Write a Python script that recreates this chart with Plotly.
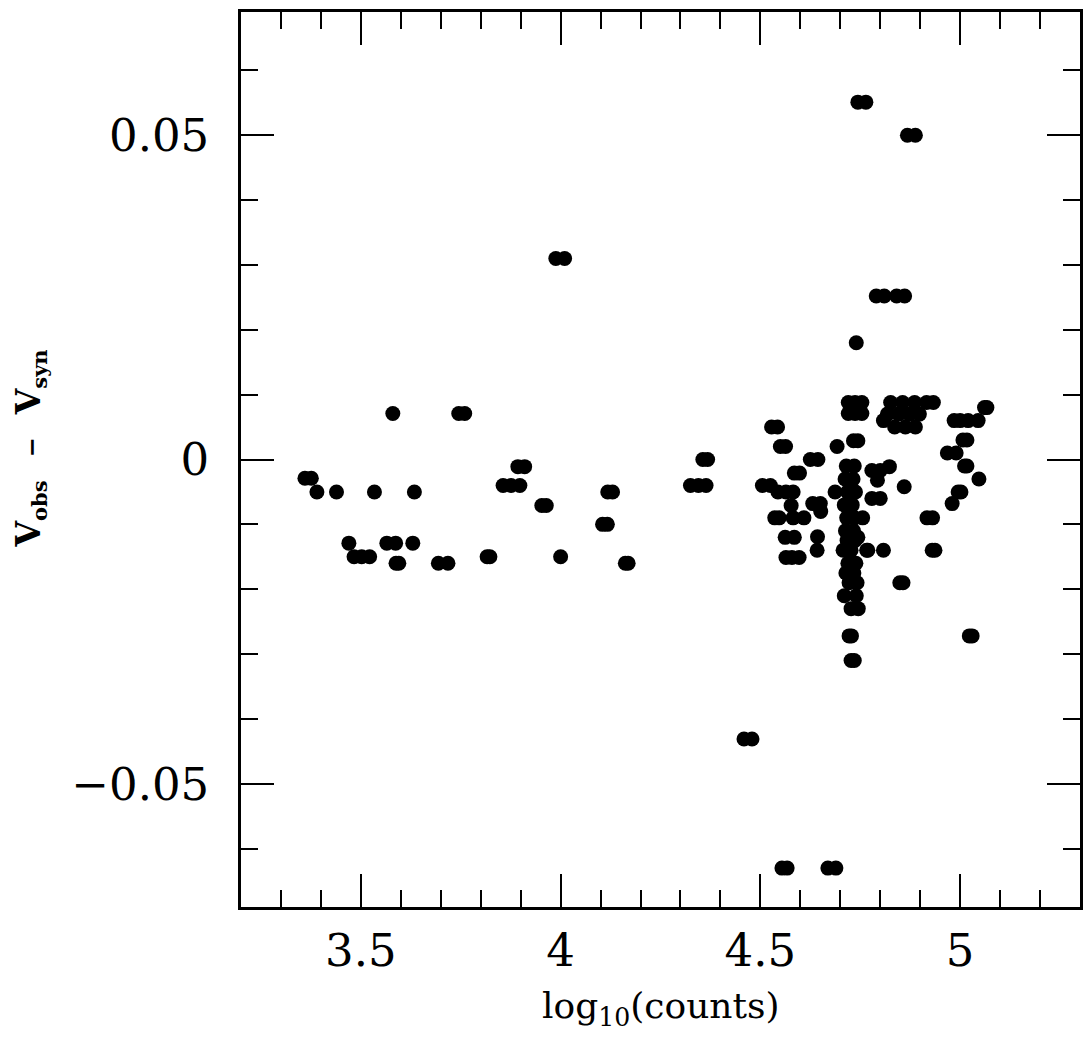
import plotly.graph_objects as go

# log10(counts)
x_vals = [
    3.580, 3.745, 3.760, 3.360, 3.376, 3.390, 3.439, 3.534, 3.634,
    3.893, 3.910, 3.856, 3.876, 3.898, 3.953, 3.964, 4.118, 4.130,
    4.105, 4.117, 3.470, 3.483, 3.502, 3.522, 3.565, 3.587, 3.630,
    3.588, 3.595, 3.694, 3.718, 3.816, 3.823, 4.000, 4.162, 4.169,
    3.988, 4.010, 4.356, 4.368, 4.325, 4.345, 4.364, 4.459, 4.479,
    4.528, 4.543, 4.550, 4.563, 4.585, 4.598, 4.505, 4.525, 4.544,
    4.564, 4.582, 4.577, 4.536, 4.547, 4.582, 4.609, 4.562, 4.585,
    4.564, 4.579, 4.597, 4.625, 4.644, 4.631, 4.650, 4.651, 4.643,
    4.642, 4.554, 4.567, 4.669, 4.689,
    4.720, 4.737, 4.754, 4.720, 4.737, 4.754, 4.730, 4.740, 4.692,
    4.733, 4.744, 4.744, 4.764, 4.868, 4.888, 4.790, 4.810, 4.841,
    4.861, 4.823, 4.860, 4.779, 4.800, 4.793, 4.779, 4.800, 4.756,
    4.744, 4.769, 4.808, 4.849, 4.857, 4.687,
    4.715, 4.735, 4.712, 4.732, 4.718, 4.738, 4.710, 4.730, 4.716,
    4.736, 4.713, 4.733, 4.717, 4.737, 4.707, 4.727, 4.766, 4.719,
    4.739, 4.714, 4.734, 4.722, 4.742, 4.710, 4.740, 4.727, 4.745,
    4.722, 4.728, 4.727, 4.735,
    4.826, 4.856, 4.886, 4.916, 4.933, 4.818, 4.846, 4.873, 4.898,
    4.836, 4.863, 4.888, 4.808, 5.061, 5.067, 4.985, 5.000, 5.020,
    5.045, 5.007, 5.017, 4.968, 4.990, 5.011, 5.017, 5.047, 4.995,
    5.002, 4.980, 4.917, 4.931, 4.930, 4.937, 5.023, 5.030,
]

# V_obs - V_syn
y_vals = [
    0.0071, 0.0071, 0.0071, -0.0029, -0.0029, -0.0050, -0.0050, -0.0050, -0.0050,
    -0.0011, -0.0011, -0.0040, -0.0040, -0.0040, -0.0071, -0.0071, -0.0050, -0.0050,
    -0.0100, -0.0100, -0.0129, -0.0150, -0.0150, -0.0150, -0.0129, -0.0129, -0.0129,
    -0.0160, -0.0160, -0.0160, -0.0160, -0.0150, -0.0150, -0.0150, -0.0160, -0.0160,
    0.0310, 0.0310, 0.0000, 0.0000, -0.0040, -0.0040, -0.0040, -0.0431, -0.0431,
    0.0050, 0.0050, 0.0020, 0.0020, -0.0021, -0.0021, -0.0040, -0.0040, -0.0050,
    -0.0050, -0.0050, -0.0071, -0.0090, -0.0090, -0.0090, -0.0090, -0.0120, -0.0120,
    -0.0151, -0.0151, -0.0151, 0.0000, 0.0000, -0.0068, -0.0068, -0.0080, -0.0119,
    -0.0140, -0.0630, -0.0630, -0.0630, -0.0630,
    0.0088, 0.0088, 0.0088, 0.0071, 0.0071, 0.0071, 0.0078, 0.0180, 0.0020,
    0.0029, 0.0029, 0.0551, 0.0551, 0.0500, 0.0500, 0.0252, 0.0252, 0.0252,
    0.0252, -0.0011, -0.0042, -0.0017, -0.0017, -0.0032, -0.0060, -0.0060, -0.0090,
    -0.0120, -0.0140, -0.0140, -0.0190, -0.0190, -0.0050,
    -0.0010, -0.0010, -0.0030, -0.0030, -0.0050, -0.0050, -0.0070, -0.0070, -0.0090,
    -0.0090, -0.0110, -0.0110, -0.0125, -0.0125, -0.0140, -0.0140, -0.0140, -0.0160,
    -0.0160, -0.0175, -0.0175, -0.0190, -0.0190, -0.0210, -0.0210, -0.0230, -0.0230,
    -0.0272, -0.0272, -0.0310, -0.0310,
    0.0088, 0.0088, 0.0088, 0.0088, 0.0088, 0.0070, 0.0070, 0.0070, 0.0070,
    0.0050, 0.0050, 0.0050, 0.0060, 0.0080, 0.0080, 0.0060, 0.0060, 0.0060,
    0.0060, 0.0030, 0.0030, 0.0010, 0.0010, -0.0010, -0.0010, -0.0030, -0.0050,
    -0.0050, -0.0068, -0.0090, -0.0090, -0.0140, -0.0140, -0.0272, -0.0272,
]

x_tickvals = [3.5, 4, 4.5, 5]
x_ticktext = ["3.5", "4", "4.5", "5"]
y_tickvals = [-0.05, 0, 0.05]
y_ticktext = ["\u22120.05", "0", "0.05"]

fig = go.Figure()
fig.add_trace(go.Scatter(
    x=x_vals, y=y_vals, mode="markers",
    marker=dict(color="black", size=15, line=dict(width=0)),
    showlegend=False, hoverinfo="skip",
))

tick_font = dict(family="DejaVu Serif", size=45, color="black")
axis_common = dict(
    showline=True, linecolor="black", linewidth=2.5, mirror="ticks",
    ticks="inside", ticklen=33, tickwidth=2, tickcolor="black",
    showgrid=False, zeroline=False, tickfont=tick_font,
)

fig.update_xaxes(
    range=[3.2, 5.3], tickmode="array", tickvals=x_tickvals, ticktext=x_ticktext,
    minor=dict(dtick=0.1, tick0=0, ticks="inside", ticklen=17, tickwidth=2,
               tickcolor="black", showgrid=False),
    ticklabelstandoff=2,
    **axis_common,
)
fig.update_yaxes(
    range=[-0.069, 0.069], tickmode="array", tickvals=y_tickvals, ticktext=y_ticktext,
    minor=dict(dtick=0.01, tick0=0, ticks="inside", ticklen=17, tickwidth=2,
               tickcolor="black", showgrid=False),
    ticklabelstandoff=20,
    **axis_common,
)

fig.add_annotation(
    text="log<sub>10</sub>(counts)", xref="paper", yref="paper",
    x=0.5, y=-0.113, xanchor="center", yanchor="middle", showarrow=False,
    font=dict(family="DejaVu Serif", size=36, color="black"),
)
fig.add_annotation(
    text=("<b>V<sub><span style='font-size:21px'>obs</span></sub>"
          "\u00a0\u00a0<span style='font-size:24px'>\u2212</span>\u00a0\u00a0"
          "V<sub><span style='font-size:21px'>syn</span></sub></b>"),
    xref="paper", yref="paper", x=-0.2506, y=0.512,
    xanchor="center", yanchor="middle", textangle=-90, showarrow=False,
    font=dict(family="DejaVu Serif", size=33, color="black"),
)

fig.update_layout(
    width=1076, height=1025,
    margin=dict(l=233, r=1, t=4, b=126),
    plot_bgcolor="white", paper_bgcolor="white",
)

fig.write_html("out.html")
